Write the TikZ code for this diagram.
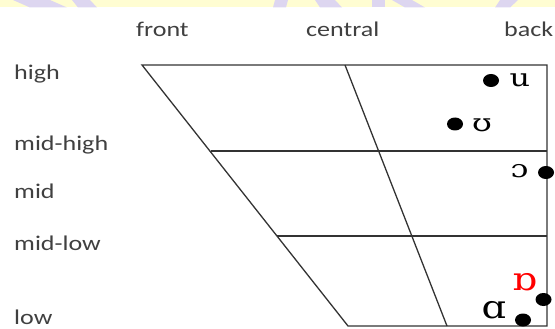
\documentclass[tikz,border=0pt]{standalone}
\usepackage{fontspec}
\usetikzlibrary{shapes.geometric}
\setmainfont{Carlito}
\newfontfamily\lblfont[FakeStretch=1.24]{Carlito}
\newfontfamily\ipafont[FakeStretch=1.3]{DejaVu Serif}
\newfontfamily\ipafontb[FakeStretch=1.2]{DejaVu Serif}
\definecolor{lblgray}{HTML}{404040}
\definecolor{bandyellow}{HTML}{FFFDD2}
\definecolor{bandlav}{HTML}{DDD6F0}
\begin{document}
\begin{tikzpicture}[x=1pt,y=-1pt,
  lbl/.style={font=\lblfont\fontsize{21}{21}\selectfont, text=lblgray, inner sep=0pt},
  ipa/.style={font=\ipafont\fontsize{24.5}{24.5}\selectfont, inner sep=0pt},
  ipab/.style={font=\ipafontb\fontsize{32}{32}\selectfont, inner sep=0pt},
  chart/.style={draw=black!80, line width=1.3pt},
  vdot/.style={fill=black, ellipse, minimum width=16pt, minimum height=13pt, inner sep=0pt}]
\useasboundingbox (0,0) rectangle (555,329);
% top band
\fill[bandyellow] (0,0) rectangle (555,7.5);
\fill[bandlav] (13,0) -- (50,0) -- (67,7.5) -- (30,7.5) -- cycle;
\fill[bandlav] (72,0) -- (90,0) -- (97,7.5) -- (78,7.5) -- cycle;
\fill[bandlav] (275,0) -- (288,0) -- (286,7.5) -- (273,7.5) -- cycle;
\fill[bandlav] (315,0) -- (335,0) -- (342,7.5) -- (320,7.5) -- cycle;
\fill[bandlav] (372,0) -- (385,0) -- (385,7.5) -- (372,7.5) -- cycle;
\fill[bandlav] (392,0) -- (412,0) -- (425,7.5) -- (405,7.5) -- cycle;
\fill[bandlav] (500,0) -- (518,0) -- (510,7.5) -- (495,7.5) -- cycle;
% chart corners
\coordinate (TL) at (142,65);
\coordinate (TR) at (547,65);
\coordinate (BL) at (348,326);
\coordinate (BR) at (547,326);
\coordinate (CT) at (345,65);
\coordinate (CB) at (447,326);
\coordinate (H1L) at (210.5,151);
\coordinate (H1R) at (547,151);
\coordinate (H2L) at (277,236);
\coordinate (H2R) at (547,236);
\draw[chart] (TL) -- (TR) -- (BR) -- (BL) -- cycle;
\draw[chart] (CT) -- (CB);
\draw[chart] (H1L) -- (H1R);
\draw[chart] (H2L) -- (H2R);
% column labels
\node[lbl, anchor=base west] (front) at (136,37) {front};
\node[lbl, anchor=base west] (central) at (306,37) {central};
\node[lbl, anchor=base west] (back) at (504,37) {back};
% row labels
\node[lbl, anchor=base west] (high) at (14,80) {high};
\node[lbl, anchor=base west] (midhigh) at (14,150.5) {mid-high};
\node[lbl, anchor=base west] (mid) at (14,198) {mid};
\node[lbl, anchor=base west] (midlow) at (14,250) {mid-low};
\node[lbl, anchor=base west] (low) at (14,324) {low};
% vowels
\node[vdot] (du) at (491,80.5) {};
\node[ipa] (u) at (520,80.5) {u};
\node[vdot] (dup) at (455,124) {};
\node[ipa] (up) at (482,125) {ʊ};
\node[vdot] (doo) at (546,172.5) {};
\node[ipa] (oo) at (519.5,171.5) {ɔ};
\node[vdot] (dro) at (543.5,299.5) {};
\node[ipab, text=red] (ro) at (524.5,282.5) {ɒ};
\node[vdot] (da) at (523,320) {};
\node[ipab] (a) at (494,310.5) {ɑ};
\end{tikzpicture}
\end{document}
